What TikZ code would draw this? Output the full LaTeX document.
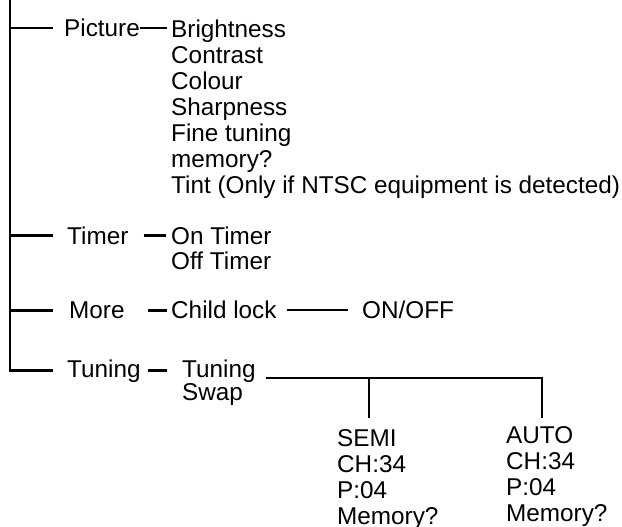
\documentclass[tikz,border=0pt]{standalone}
\usepackage{fontspec}
\setmainfont{Liberation Sans}
\begin{document}
\begin{tikzpicture}[
  x=1pt, y=-1pt,
  lbl/.style={inner sep=0pt, anchor=base west,
              font=\fontsize{24.3}{26}\selectfont},
  lst/.style={inner sep=0pt, anchor=north west, align=left,
              font=\fontsize{24.3}{#1}\selectfont},
  lst/.default=26,
  ln/.style={line width=2.5pt},
]
  \useasboundingbox (0,0) rectangle (622,527);
  \coordinate (top) at (10,0);
  \node[lbl] (picture) at (64,36.7) {Picture};
  \node[lst] (picitems) at (171,19.3) {Brightness\\Contrast\\Colour\\Sharpness\\Fine tuning\\memory?\\Tint (Only if NTSC equipment is detected)};
  \node[lbl] (timer) at (67,244) {Timer};
  \node[lst=25] (timitems) at (171,226.6) {On Timer\\Off Timer};
  \node[lbl] (more) at (69,318.5) {More};
  \node[lbl] (child) at (171,318.5) {Child lock};
  \node[lbl] (onoff) at (362,318.5) {ON/OFF};
  \node[lbl] (tuning) at (67,377) {Tuning};
  \node[lst=23] (tunitems) at (182,359.6) {Tuning\\Swap};
  \node[lst] (semi) at (337,429.6) {SEMI\\CH:34\\P:04\\Memory?};
  \node[lst] (auto) at (506,426.1) {AUTO\\CH:34\\P:04\\Memory?};
  \coordinate (split) at (266,378);
  \coordinate (semitop) at (369,378);
  \coordinate (autotop) at (542,378);
  \coordinate (semistem) at (369,418);
  \coordinate (autostem) at (542,418);
  \draw[ln] (top) -- (top |- tuning.west) -- ([xshift=-14]tuning.west);
  \draw[ln] (top |- picture.west) -- ([xshift=-11]picture.west);
  \draw[ln] (top |- timer.west) -- ([xshift=-14]timer.west);
  \draw[ln] (top |- more.west) -- ([xshift=-16]more.west);
  \draw[ln] (picture.east) -- ([xshift=-4]picture.east -| picitems.west);
  \draw[ln] ([xshift=15]timer.east) -- ([xshift=-5]timer.east -| timitems.west);
  \draw[ln] ([xshift=23]more.east) -- ([xshift=-4]more.east -| child.west);
  \draw[ln] ([xshift=10]child.east) -- ([xshift=-14]child.east -| onoff.west);
  \draw[ln] ([xshift=7]tuning.east) -- ([xshift=-15]tuning.east -| tunitems.west);
  \draw[ln] (split) -- (autotop) -- (autostem);
  \draw[ln] (semitop) -- (semistem);
\end{tikzpicture}
\end{document}
